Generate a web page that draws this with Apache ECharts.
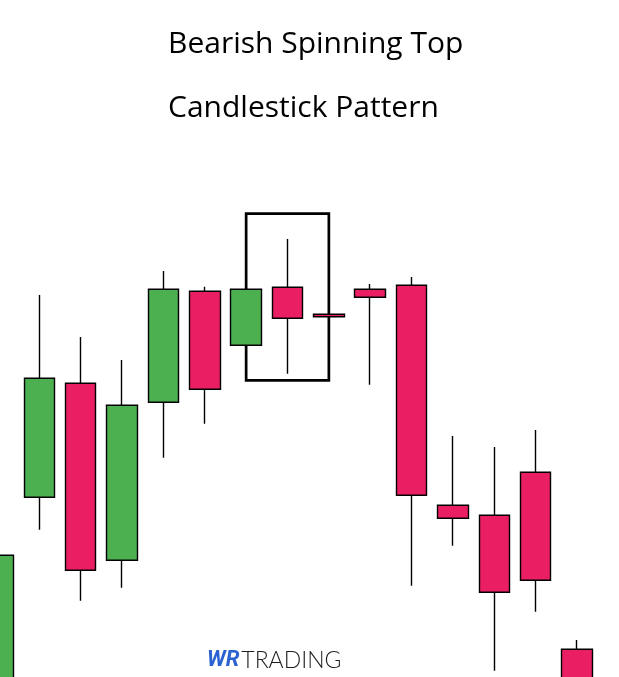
<!DOCTYPE html>
<html>
<head>
<meta charset="utf-8">
<script src="https://cdn.jsdelivr.net/npm/echarts@6/dist/echarts.min.js"></script>
<style>html,body{margin:0;padding:0;background:#fff}#c{width:619px;height:677px}</style>
</head>
<body>
<div id="c"></div>
<script>
// Candle index labels
const categories = ['c1','c2','c3','c4','c5','c6','c7','c8','c9','c10','c11','c12','c13','c14','c15'];
// Values in chart units (arbitrary price scale)
const opens  = [-30, 179.7, 293.7, 116.7, 274.7, 385.7, 331.7, 389.7, 362.8, 387.7, 391.7, 171.7, 161.7, 204.7, 27.7];
const closes = [121.7, 298.7, 106.7, 271.7, 387.7, 287.7, 387.7, 358.7, 360.3, 379.7, 181.7, 158.7, 84.7, 96.7, -40];
const lows   = [-50, 147.3, 76.3, 89.3, 219.3, 253.3, 331.7, 303.3, 360.3, 292.3, 91.3, 131.3, 6.3, 65.3, -60];
const highs  = [121.7, 382, 340, 317, 406, 390.3, 387.7, 438, 362.8, 393, 400, 241, 230, 247, 37];
const boxCorners = [['c7', 463.3], ['c9', 296.7]];
const titleLines = ['Bearish Spinning Top', 'Candlestick Pattern'];
const brand = ['WR', 'TRADING'];

const data = categories.map((c, i) => [opens[i], closes[i], lows[i], highs[i]]);

const chart = echarts.init(document.getElementById('c'), null, {renderer: 'canvas'});
chart.setOption({
  animation: false,
  backgroundColor: '#ffffff',
  title: [
    {text: titleLines[0], left: 163, top: 24, padding: 5, textStyle: {fontFamily: 'Open Sans', fontWeight: 'normal', fontSize: 30, color: '#000'}},
    {text: titleLines[1], left: 163, top: 88, padding: 5, textStyle: {fontFamily: 'Open Sans', fontWeight: 'normal', fontSize: 30, color: '#000'}},
    {text: '{a|' + brand[0] + '}{b|' + brand[1] + '}', left: 202, top: 644,
     textStyle: {rich: {
       a: {fontFamily: 'Roboto', fontWeight: 'bold', fontStyle: 'italic', fontSize: 22, color: '#2b62d2'},
       b: {fontFamily: 'Lato', fontWeight: 300, fontSize: 23, color: '#1e1e1e', padding: [0,0,0,2]}
     }}}
  ],
  grid: {left: -22.7, width: 620.4, top: 0, height: 677, outerBoundsMode: 'none', containLabel: false},
  xAxis: {type: 'category', data: categories, show: false, boundaryGap: true},
  yAxis: {type: 'value', min: 0, max: 677, show: false},
  series: [{
    type: 'candlestick',
    data: data,
    barWidth: 31,
    clip: true,
    itemStyle: {color: '#4caf50', color0: '#e91e63', borderColor: '#000', borderColor0: '#000', borderWidth: 1.4},
    markArea: {
      silent: true,
      itemStyle: {color: 'rgba(0,0,0,0)', borderColor: '#000', borderWidth: 2.7},
      data: [[{coord: boxCorners[0]}, {coord: boxCorners[1]}]]
    }
  }]
});
</script>
</body>
</html>
